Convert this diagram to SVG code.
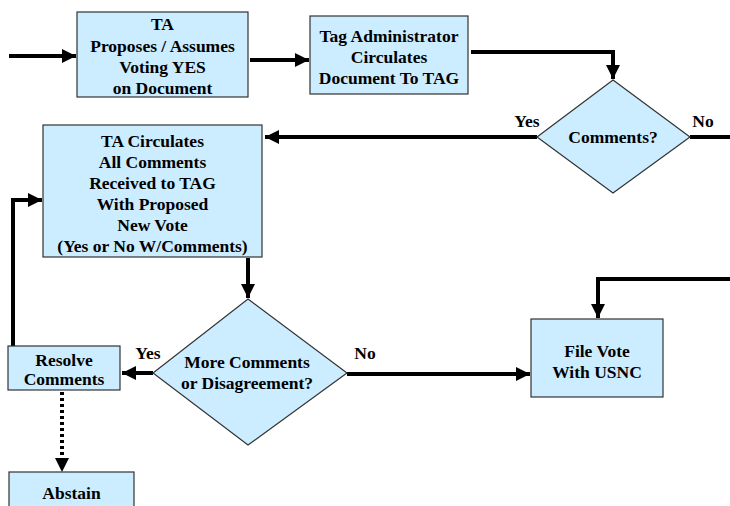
<svg xmlns="http://www.w3.org/2000/svg" width="730" height="506" viewBox="0 0 730 506">
<style>
.n{fill:#CCECFF;stroke:#333;stroke-width:1.2}
.t{font-family:'Liberation Serif','Times New Roman',serif;font-weight:bold;font-size:17.5px;fill:#000;text-anchor:middle}
.c{fill:none;stroke:#000;stroke-width:4}
.d{fill:none;stroke:#000;stroke-width:4;stroke-dasharray:3 3}
</style>
<defs>
<marker id="ah" markerUnits="userSpaceOnUse" markerWidth="16" markerHeight="16" viewBox="0 0 16 16" refX="14" refY="8" orient="auto">
<path d="M0,1 L14,8 L0,15 Z" fill="#000"/>
</marker>
</defs>
<rect width="730" height="506" fill="#fff"/>
<g id="connectors">
<path class="c" d="M9,56 H76" marker-end="url(#ah)"/>
<path class="c" d="M250,60 H309" marker-end="url(#ah)"/>
<path class="c" d="M471,52 H613 V79" marker-end="url(#ah)"/>
<path class="c" d="M537,137 H265" marker-end="url(#ah)"/>
<path class="c" d="M690,137 H730"/>
<path class="c" d="M248,258 V298" marker-end="url(#ah)"/>
<path class="c" d="M153,373 H122" marker-end="url(#ah)"/>
<path class="c" d="M347,374 H530" marker-end="url(#ah)"/>
<path class="c" d="M730,279 H598 V318" marker-end="url(#ah)"/>
<path class="c" d="M13,346 V200 H42" marker-end="url(#ah)"/>
<path class="d" d="M62,392 V459"/>
<path d="M55,458 L62,472 L69,458 Z" fill="#000"/>
</g>
<g id="n1">
<rect class="n" x="77" y="12" width="171" height="85"/>
<text class="t" x="162.5" y="30">TA</text>
<text class="t" x="162.5" y="51.5">Proposes / Assumes</text>
<text class="t" x="162.5" y="73">Voting YES</text>
<text class="t" x="162.5" y="94">on Document</text>
</g>
<g id="n2">
<rect class="n" x="310" y="16" width="158" height="78"/>
<text class="t" x="389" y="42">Tag Administrator</text>
<text class="t" x="389" y="63">Circulates</text>
<text class="t" x="389" y="84">Document To TAG</text>
</g>
<g id="n3">
<polygon class="n" points="613,80 690,137 613,193 537,137"/>
<text class="t" x="613" y="142.5">Comments?</text>
<text class="t" x="527" y="127">Yes</text>
<text class="t" x="703" y="127">No</text>
</g>
<g id="n4">
<rect class="n" x="43" y="125" width="219" height="132"/>
<text class="t" x="152.5" y="147">TA Circulates</text>
<text class="t" x="152.5" y="168">All Comments</text>
<text class="t" x="152.5" y="189">Received to TAG</text>
<text class="t" x="152.5" y="210">With Proposed</text>
<text class="t" x="152.5" y="231">New Vote</text>
<text class="t" x="152.5" y="252">(Yes or No W/Comments)</text>
</g>
<g id="n5">
<polygon class="n" points="248,299 347,373 248,445 153,373"/>
<text class="t" x="247" y="368">More Comments</text>
<text class="t" x="247" y="389">or Disagreement?</text>
<text class="t" x="148" y="358.5">Yes</text>
<text class="t" x="365" y="358.5">No</text>
</g>
<g id="n6">
<rect class="n" x="8" y="346" width="112" height="44"/>
<text class="t" x="64" y="366">Resolve</text>
<text class="t" x="64" y="385">Comments</text>
</g>
<g id="n7">
<rect class="n" x="531" y="319" width="132" height="78"/>
<text class="t" x="597" y="357">File Vote</text>
<text class="t" x="597" y="378">With USNC</text>
</g>
<g id="n8">
<rect class="n" x="9" y="472" width="125" height="50"/>
<text class="t" x="71.5" y="499">Abstain</text>
</g>
</svg>
